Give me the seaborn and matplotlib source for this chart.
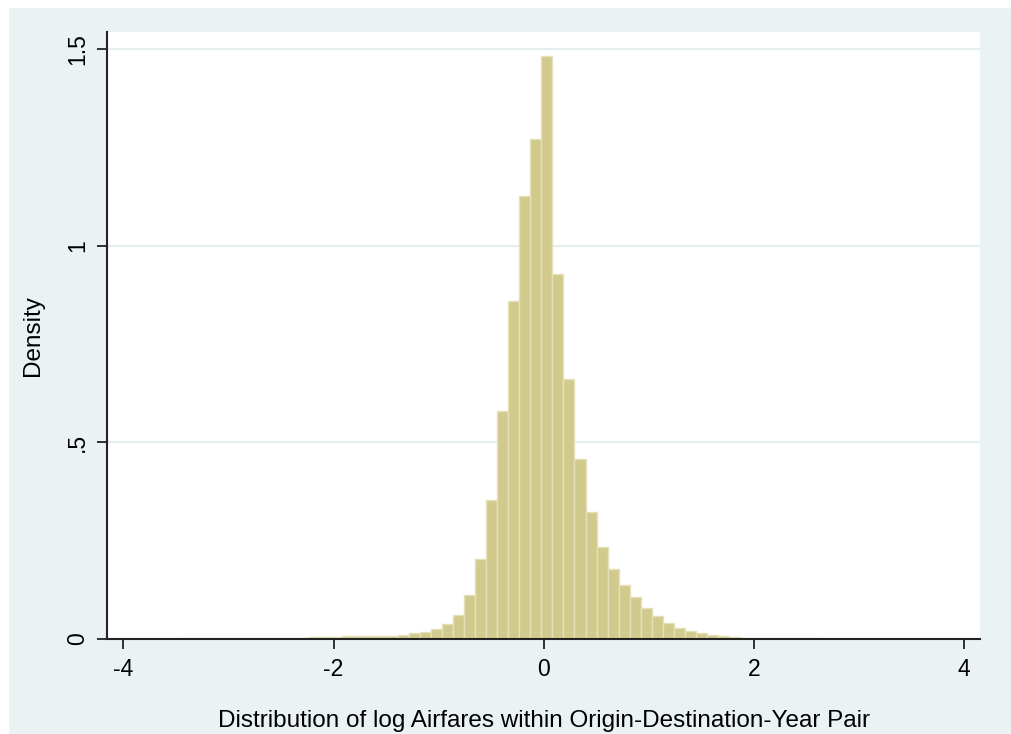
import numpy as np
import pandas as pd
import matplotlib
matplotlib.use("Agg")
import matplotlib.pyplot as plt
import seaborn as sns
from matplotlib.patches import Rectangle

# ---- data ----
bin_start = -3.496
bin_width = 0.10525
density = [
    0.0015, 0.0015, 0.0015, 0.0015, 0.0015, 0.002, 0.002, 0.002, 0.002, 0.0025,
    0.0025, 0.003, 0.004, 0.004, 0.005, 0.007, 0.007, 0.007, 0.007, 0.008,
    0.011, 0.016, 0.019, 0.026, 0.039, 0.062, 0.112, 0.204, 0.354, 0.581,
    0.861, 1.126, 1.272, 1.482, 0.929, 0.662, 0.457, 0.322, 0.235, 0.179,
    0.138, 0.106, 0.079, 0.059, 0.040, 0.027, 0.020, 0.014, 0.010, 0.007,
    0.005, 0.0035, 0.003, 0.0025, 0.002, 0.0015, 0.0015, 0.0015, 0.0012, 0.0012,
    0.0012, 0.0012, 0.0012, 0.0012, 0.0012, 0.0012, 0.0012, 0.0012, 0.0008, 0.0008,
    0.001,
]
x_ticks = [-4, -2, 0, 2, 4]
x_ticklabels = ["-4", "-2", "0", "2", "4"]
y_ticks = [0, 0.5, 1, 1.5]
y_ticklabels = ["0", ".5", "1", "1.5"]
x_label = "Distribution of log Airfares within Origin-Destination-Year Pair"
y_label = "Density"

n_bins = len(density)
edges = [float(bin_start + bin_width * k) for k in range(n_bins + 1)]
centers = [(edges[k] + edges[k + 1]) / 2 for k in range(n_bins)]
df = pd.DataFrame({"x": centers, "density": density})

# ---- style ----
sns.set_style("white")
plt.rcParams["font.family"] = ["Liberation Sans", "DejaVu Sans"]

BG = "#eaf2f3"
W, H = 1011, 734
fig = plt.figure(figsize=(W / 100, H / 100), dpi=100, facecolor=BG)
# thin white strip at top/left as in the reference
fig.patches.append(Rectangle((0, 0), 8 / W, 1, transform=fig.transFigure, color="white", zorder=-5))
fig.patches.append(Rectangle((0, 1 - 7 / H), 1, 7 / H, transform=fig.transFigure, color="white", zorder=-5))

left, right, top, bottom = 107, 980, 32, 639
ax = fig.add_axes([left / W, 1 - bottom / H, (right - left) / W, (bottom - top) / H])
ax.set_facecolor("white")

sns.histplot(data=df, x="x", weights="density", bins=edges, stat="count",
             color="#d1ca8d", edgecolor="#e5e0b8", linewidth=1.0, alpha=1.0, ax=ax, zorder=2)

ax.set_xlim(-4.156, 4.152)
ax.set_ylim(0, 1.544)

for yv in y_ticks[1:]:
    ax.axhline(yv, color="#e4eeee", linewidth=1.6, zorder=1)

ax.set_xticks(x_ticks)
ax.set_xticklabels(x_ticklabels)
ax.set_yticks(y_ticks)
ax.set_yticklabels(y_ticklabels, rotation=90, va="center")

ax.tick_params(axis="both", direction="out", length=7, width=1.3, color="#222222",
               labelsize=16.5, labelcolor="black", bottom=True, left=True)
ax.tick_params(axis="x", pad=7)
ax.tick_params(axis="y", pad=6)

for side in ["top", "right"]:
    ax.spines[side].set_visible(False)
for side in ["left", "bottom"]:
    ax.spines[side].set_color("#222222")
    ax.spines[side].set_linewidth(1.5)

ax.set_xlabel(x_label, fontsize=17.5, color="black")
ax.set_ylabel(y_label, fontsize=17.5, color="black")
ax.xaxis.set_label_coords(0.5, (bottom - 721) / (bottom - top))
ax.xaxis.label.set_va("center")
ax.yaxis.set_label_coords((33 - left) / (right - left), 0.5)
ax.yaxis.label.set_va("center")

fig.savefig("out.png", dpi=100, facecolor=BG)
